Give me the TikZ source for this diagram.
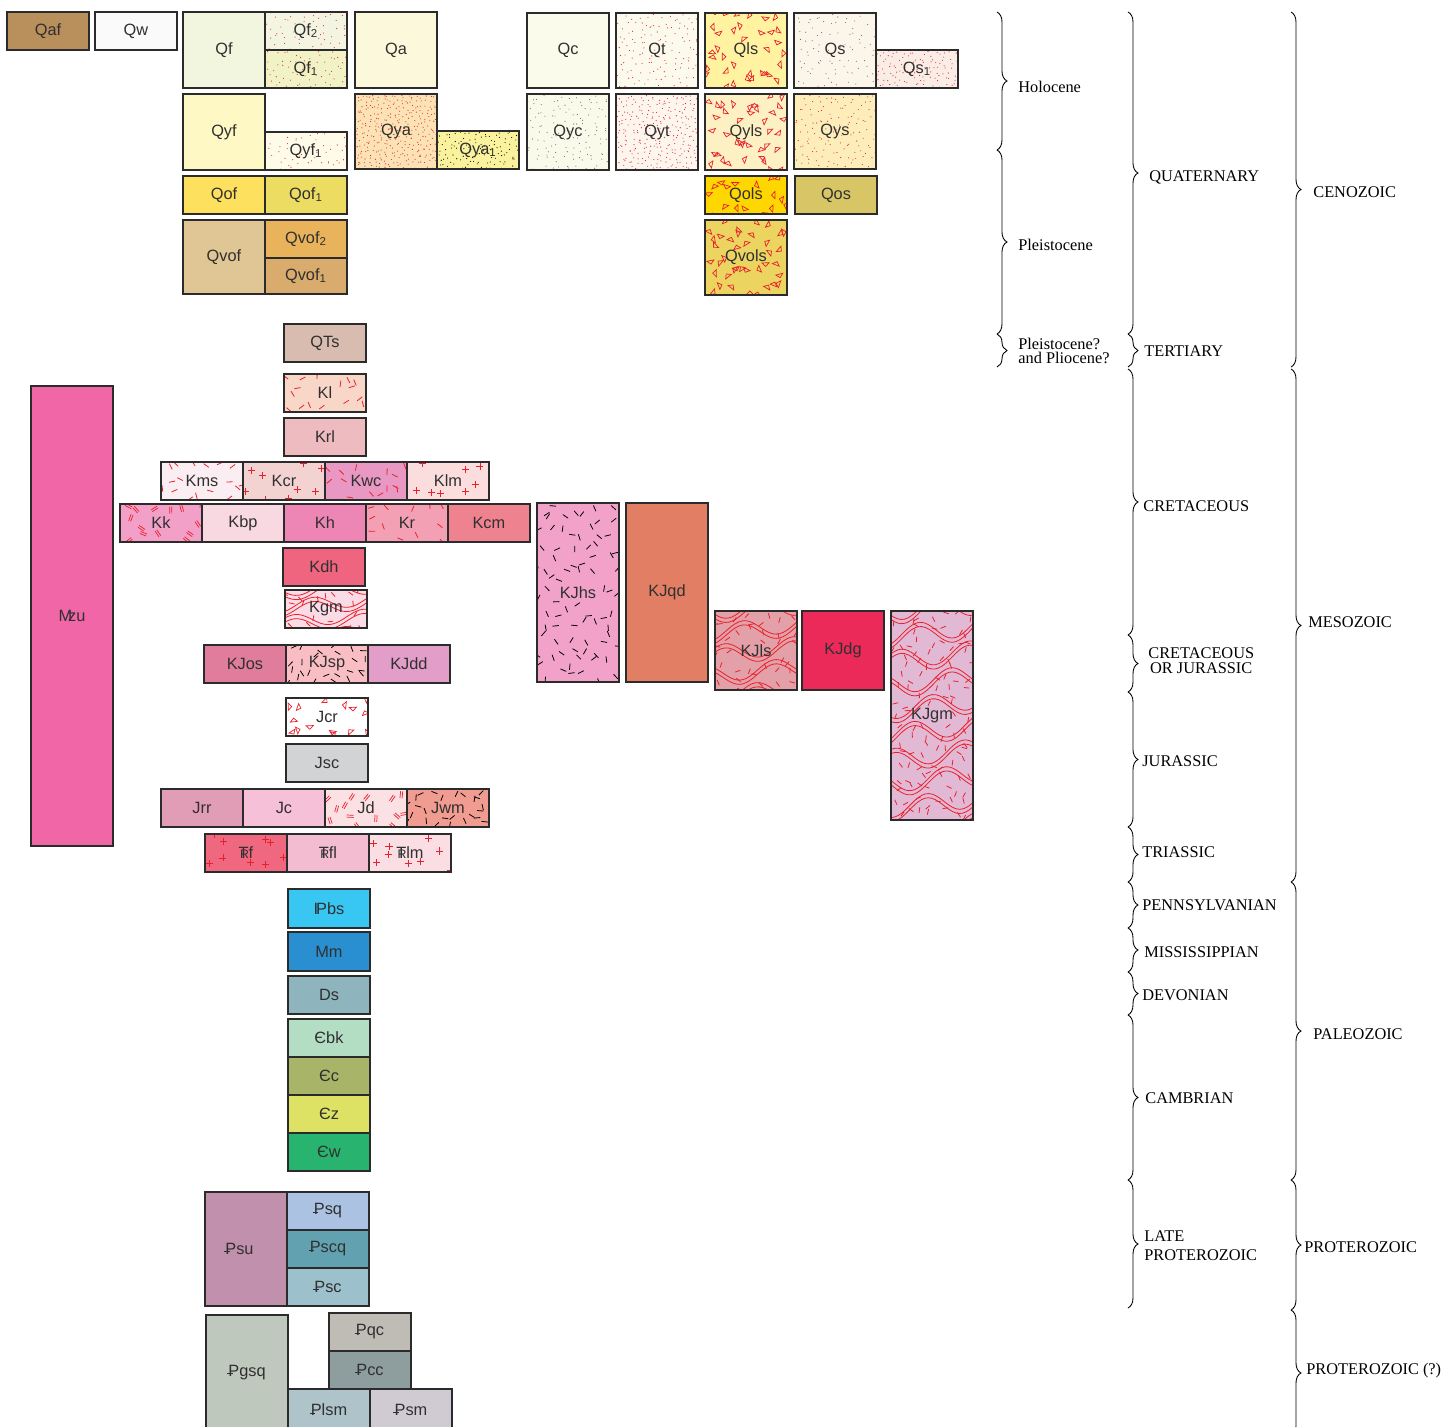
\documentclass[tikz,border=0pt]{standalone}
\usepackage{fontspec}
\setmainfont{Liberation Serif}
\newfontfamily\unitfont{Liberation Sans}
\usepackage{xcolor}
\usepackage{tikz}
\usetikzlibrary{positioning}
\usetikzlibrary{decorations.pathreplacing}

\definecolor{edge}{HTML}{2B2B2B}
\definecolor{ink}{HTML}{303030}
\definecolor{redmk}{HTML}{E8202A}
\definecolor{graymk}{HTML}{707070}
\definecolor{cQaf}{HTML}{B98F5C}
\definecolor{cQw}{HTML}{FAFAFA}
\definecolor{cQf}{HTML}{F3F6DF}
\definecolor{cQfb}{HTML}{F3F5E2}
\definecolor{cQfa}{HTML}{F1F2C5}
\definecolor{cQa}{HTML}{FCF8DB}
\definecolor{cQyf}{HTML}{FEF8C4}
\definecolor{cQyfa}{HTML}{FEFBE8}
\definecolor{cQya}{HTML}{FCE3B5}
\definecolor{cQyaa}{HTML}{FAF29C}
\definecolor{cQof}{HTML}{FDE05E}
\definecolor{cQofa}{HTML}{ECDC62}
\definecolor{cQvof}{HTML}{E0C595}
\definecolor{cQvofb}{HTML}{E8B35A}
\definecolor{cQvofa}{HTML}{D9AB6D}
\definecolor{cQc}{HTML}{FAFBEA}
\definecolor{cQt}{HTML}{FCFAED}
\definecolor{cQls}{HTML}{FFF3A2}
\definecolor{cQs}{HTML}{FCF5EA}
\definecolor{cQsa}{HTML}{FAEDE5}
\definecolor{cQyc}{HTML}{FAFAEA}
\definecolor{cQyt}{HTML}{FCF6EE}
\definecolor{cQyls}{HTML}{FDF0C2}
\definecolor{cQys}{HTML}{FDEDBB}
\definecolor{cQols}{HTML}{FFD700}
\definecolor{cQos}{HTML}{D8C666}
\definecolor{cQvols}{HTML}{EBD560}
\definecolor{cQTs}{HTML}{D9BCB0}
\definecolor{cMzu}{HTML}{F066A6}
\definecolor{cKl}{HTML}{F8D6C8}
\definecolor{cKrl}{HTML}{EEBCC0}
\definecolor{cKms}{HTML}{FAEEF2}
\definecolor{cKcr}{HTML}{F3D3D1}
\definecolor{cKwc}{HTML}{E898C2}
\definecolor{cKlm}{HTML}{FBDDDD}
\definecolor{cKk}{HTML}{F3A0C8}
\definecolor{cKbp}{HTML}{F8D9E2}
\definecolor{cKh}{HTML}{EE86B5}
\definecolor{cKr}{HTML}{F4A0B4}
\definecolor{cKcm}{HTML}{EF828F}
\definecolor{cKdh}{HTML}{EF647E}
\definecolor{cKgm}{HTML}{FBDCE6}
\definecolor{cKJhs}{HTML}{F2A1C9}
\definecolor{cKJqd}{HTML}{E27E63}
\definecolor{cKJls}{HTML}{E3A0A8}
\definecolor{cKJdg}{HTML}{EC2A5A}
\definecolor{cKJgm}{HTML}{E2B9D5}
\definecolor{cKJos}{HTML}{E07D9C}
\definecolor{cKJsp}{HTML}{F8BEC4}
\definecolor{cKJdd}{HTML}{E29DC8}
\definecolor{cJcr}{HTML}{FFFFFF}
\definecolor{cJsc}{HTML}{D2D3D5}
\definecolor{cJrr}{HTML}{E19DB5}
\definecolor{cJc}{HTML}{F5C0D8}
\definecolor{cJd}{HTML}{FBE0E4}
\definecolor{cJwm}{HTML}{F09C90}
\definecolor{cTrf}{HTML}{F06880}
\definecolor{cTrfl}{HTML}{F4BCD0}
\definecolor{cTrlm}{HTML}{FBDDE4}
\definecolor{cPbs}{HTML}{38C6F2}
\definecolor{cMm}{HTML}{2A8FD0}
\definecolor{cDs}{HTML}{8EB4BE}
\definecolor{cCbk}{HTML}{B4DEC4}
\definecolor{cCc}{HTML}{A8B468}
\definecolor{cCz}{HTML}{DEE264}
\definecolor{cCw}{HTML}{28B46E}
\definecolor{cPsu}{HTML}{C090AC}
\definecolor{cPsq}{HTML}{ACC2E2}
\definecolor{cPscq}{HTML}{62A2B0}
\definecolor{cPsc}{HTML}{9CC0CC}
\definecolor{cPgsq}{HTML}{BEC8BC}
\definecolor{cPqc}{HTML}{BEBCB4}
\definecolor{cPcc}{HTML}{8E9E9E}
\definecolor{cPlsm}{HTML}{AEC4CA}
\definecolor{cPsm}{HTML}{D0CAD2}

\newcommand{\lbl}{\fontsize{9.3}{10}\selectfont}
\newcommand{\trsym}{{\ooalign{T\cr\hidewidth\kern0.1em\fontsize{7}{7}\selectfont R\hidewidth\cr}}}
\newcommand{\psym}{{\ooalign{P\cr\kern-0.08em\rule[0.3ex]{0.34em}{0.08ex}\cr}}}
\newcommand{\pasym}{I\kern-0.12em P}
\newcommand{\mzsym}{M\kern-0.25em z}

% corner, size and centre of the box that is being patterned (pt)
\newcommand{\bxsize}{%
  \pgfpointanchor{path picture bounding box}{north west}\pgfgetlastxy{\nwx}{\nwy}%
  \pgfpointanchor{path picture bounding box}{south east}\pgfgetlastxy{\sex}{\sey}%
  \pgfmathsetmacro{\bw}{\sex-\nwx}\pgfmathsetmacro{\bh}{\sey-\nwy}%
  \pgfmathsetmacro{\nwx}{\nwx}\pgfmathsetmacro{\nwy}{\nwy}%
  \pgfmathsetmacro{\cxx}{\nwx+\bw/2}\pgfmathsetmacro{\cyy}{\nwy+\bh/2}}
% jittered marks: seed, spacing (pt), free half width round the label (pt), mark
\newcommand{\scatmarks}[4]{%
  \bxsize\pgfmathsetseed{#1}%
  \pgfmathtruncatemacro{\nx}{max(1,round(\bw/#2))}%
  \pgfmathtruncatemacro{\ny}{max(1,round(abs(\bh)/#2))}%
  \pgfmathsetmacro{\sx}{\bw/\nx}%
  \pgfmathsetmacro{\sy}{\bh/\ny}%
  \foreach \ii in {1,...,\nx}{\foreach \jj in {1,...,\ny}{%
    \pgfmathsetmacro{\px}{\nwx+(\ii-1+rnd)*\sx}%
    \pgfmathsetmacro{\py}{\nwy+(\jj-1+rnd)*\sy}%
    \pgfmathsetmacro{\ra}{rnd*180}%
    \pgfmathtruncatemacro{\keep}{or(abs(\px-\cxx)>#3,abs(\py-\cyy)>0.45*#3)}%
    \ifnum\keep=1 #4\fi}}}
% folded lines: band spacing (pt), phase
\newcommand{\folds}[2]{%
  \bxsize
  \pgfmathtruncatemacro{\nb}{abs(\bh)/#1+1}%
  \foreach \kk in {-1,...,\nb}{\foreach \dd in {0,2.4}{%
    \draw[redmk,line width=0.45pt] plot[smooth,domain=0:1,samples=25]
      ({(\nwx+\x*\bw)*1pt},{(\nwy-(\kk)*#1-\dd-0.4*#1*sin(\x*430+(\kk)*97+#2)+0.4*#1*\x)*1pt});}}}

\tikzset{%
  ubox/.style = {rectangle,draw=edge,line width=0.7pt,anchor=north west,
        minimum width=1.64cm,minimum height=0.76cm,inner sep=0pt,
        outer sep=0pt,text=ink,font=\unitfont\lbl},
  stip/.style n args = {3}{path picture={\scatmarks{#1}{#2}{0}{%
        \fill[#3] (\px pt,\py pt) circle (0.32pt);}}},
  trimk/.style 2 args = {path picture={\scatmarks{#1}{#2}{11}{%
        \draw[redmk,line width=0.4pt,line join=miter]
          (\px pt,\py pt) -- ++(2*\ra:2.9pt) -- ++(2*\ra+135:4.1pt) -- cycle;}}},
  fleck/.style n args = {3}{path picture={\scatmarks{#1}{#2}{11}{%
        \draw[#3,line width=0.45pt] (\px pt,\py pt) ++(\ra:1.8pt) -- ++(\ra+180:3.6pt);}}},
  crossmk/.style 2 args = {path picture={\scatmarks{#1}{#2}{10}{%
        \draw[redmk,line width=0.5pt] (\px pt,\py pt) ++(-2pt,0pt) -- ++(4pt,0pt)
          (\px pt,\py pt) ++(0pt,-2pt) -- ++(0pt,4pt);}}},
  pairmk/.style 2 args = {path picture={\scatmarks{#1}{#2}{9}{%
        \draw[redmk,line width=0.4pt]
          (\px pt,\py pt) ++(\ra+90:0.6pt) ++(\ra:2pt) -- ++(\ra+180:4pt)
          (\px pt,\py pt) ++(\ra-90:0.6pt) ++(\ra:2pt) -- ++(\ra+180:4pt);}}},
  foldmk/.style 2 args = {path picture={\folds{#1}{#2}\scatmarks{#2}{7}{11}{%
        \draw[redmk,line width=0.45pt] (\px pt,\py pt) ++(\ra:1.6pt) -- ++(\ra+180:3.2pt);}}},
  age/.style = {anchor=west,inner sep=0pt,align=left,font=\lbl},
  agebrace/.style = {decorate,decoration={brace,amplitude=0.2cm},line width=0.5pt}
}

\begin{document}
\begin{tikzpicture}[x=0.02cm,y=-0.02cm]
\useasboundingbox (0,0) rectangle (1445,1427);
% Quaternary units
\node[ubox,fill=cQaf] (Qaf) at (7,12) {Qaf};
\node[ubox,fill=cQw] (Qw) at (95,12) {Qw};
\node[ubox,fill=cQf,minimum height=1.52cm] (Qf) at (183,12) {Qf};
\node[ubox,fill=cQfb,stip={1}{4.5}{redmk}] (Qf2) [right=0pt of Qf.north east,anchor=north west] {Qf\textsubscript{2}};
\node[ubox,fill=cQfa,stip={2}{4}{redmk}] (Qf1) [below=0pt of Qf2] {Qf\textsubscript{1}};
\node[ubox,fill=cQa,minimum height=1.52cm] (Qa) at (355,12) {Qa};
\node[ubox,fill=cQyf,minimum height=1.52cm] (Qyf) at (183,94) {Qyf};
\node[ubox,fill=cQyfa,stip={3}{4.5}{redmk}] (Qyf1) [right=0pt of Qyf.south east,anchor=south west] {Qyf\textsubscript{1}};
\node[ubox,fill=cQya,minimum height=1.5cm,stip={4}{2.5}{redmk}] (Qya) at (355,94) {Qya};
\node[ubox,fill=cQyaa,stip={5}{3}{black}] (Qya1) [right=0pt of Qya.south east,anchor=south west] {Qya\textsubscript{1}};
\node[ubox,fill=cQof] (Qof) at (183,176) {Qof};
\node[ubox,fill=cQofa] (Qof1) [right=0pt of Qof] {Qof\textsubscript{1}};
\node[ubox,fill=cQvof,minimum height=1.48cm] (Qvof) at (183,220) {Qvof};
\node[ubox,fill=cQvofb] (Qvof2) [right=0pt of Qvof.north east,anchor=north west] {Qvof\textsubscript{2}};
\node[ubox,fill=cQvofa,minimum height=0.72cm] (Qvof1) [below=0pt of Qvof2] {Qvof\textsubscript{1}};
\node[ubox,fill=cQc,minimum height=1.5cm] (Qc) at (527,13) {Qc};
\node[ubox,fill=cQt,minimum height=1.5cm,stip={6}{4}{redmk}] (Qt) at (616,13) {Qt};
\node[ubox,fill=cQls,minimum height=1.5cm,trimk={7}{7}] (Qls) at (705,13) {Qls};
\node[ubox,fill=cQs,minimum height=1.5cm,stip={8}{4.5}{graymk}] (Qs) at (794,13) {Qs};
\node[ubox,fill=cQsa,stip={9}{3}{redmk}] (Qs1) [right=0pt of Qs.south east,anchor=south west] {Qs\textsubscript{1}};
\node[ubox,fill=cQyc,minimum height=1.52cm,stip={10}{4}{graymk}] (Qyc) at (527,94) {Qyc};
\node[ubox,fill=cQyt,minimum height=1.52cm,stip={11}{2.7}{redmk}] (Qyt) at (616,94) {Qyt};
\node[ubox,fill=cQyls,minimum height=1.52cm,trimk={12}{7}] (Qyls) at (705,94) {Qyls};
\node[ubox,fill=cQys,minimum height=1.5cm,stip={13}{4}{redmk}] (Qys) at (794,94) {Qys};
\node[ubox,fill=cQols,trimk={14}{7}] (Qols) at (705,176) {Qols};
\node[ubox,fill=cQos] (Qos) at (795,176) {Qos};
\node[ubox,fill=cQvols,minimum height=1.5cm,trimk={15}{7}] (Qvols) at (705,220) {Qvols};
% Tertiary
\node[ubox,fill=cQTs] (QTs) at (284,324) {QTs};
% Mesozoic units
\node[ubox,fill=cMzu,minimum height=9.2cm] (Mzu) at (31,386) {\mzsym u};
\node[ubox,fill=cKl,fleck={16}{7}{redmk}] (Kl) at (284,374) {Kl};
\node[ubox,fill=cKrl] (Krl) at (284,418) {Krl};
\node[ubox,fill=cKms,fleck={17}{7}{redmk}] (Kms) at (161,462) {Kms};
\node[ubox,fill=cKcr,crossmk={18}{9}] (Kcr) [right=0pt of Kms] {Kcr};
\node[ubox,fill=cKwc,fleck={19}{6.5}{redmk}] (Kwc) [right=0pt of Kcr] {Kwc};
\node[ubox,fill=cKlm,crossmk={20}{9}] (Klm) [right=0pt of Kwc] {Klm};
\node[ubox,fill=cKk,pairmk={21}{7.5}] (Kk) at (120,504) {Kk};
\node[ubox,fill=cKbp] (Kbp) [right=0pt of Kk] {Kbp};
\node[ubox,fill=cKh] (Kh) [right=0pt of Kbp] {Kh};
\node[ubox,fill=cKr,fleck={22}{8.5}{redmk}] (Kr) [right=0pt of Kh] {Kr};
\node[ubox,fill=cKcm] (Kcm) [right=0pt of Kr] {Kcm};
\node[ubox,fill=cKdh] (Kdh) at (283,548) {Kdh};
\node[ubox,fill=cKgm,foldmk={9}{23}] (Kgm) at (285,590) {Kgm};
\node[ubox,fill=cKJhs,minimum height=3.58cm,fleck={24}{7.5}{black}] (KJhs) at (537,503) {KJhs};
\node[ubox,fill=cKJqd,minimum height=3.58cm] (KJqd) at (626,503) {KJqd};
\node[ubox,fill=cKJls,minimum height=1.58cm,foldmk={12}{25}] (KJls) at (715,611) {KJls};
\node[ubox,fill=cKJdg,minimum height=1.58cm] (KJdg) at (802,611) {KJdg};
\node[ubox,fill=cKJgm,minimum height=4.18cm,foldmk={14}{26}] (KJgm) at (891,611) {KJgm};
\node[ubox,fill=cKJos] (KJos) at (204,645) {KJos};
\node[ubox,fill=cKJsp,fleck={27}{6}{black}] (KJsp) [right=0pt of KJos] {KJsp};
\node[ubox,fill=cKJdd] (KJdd) [right=0pt of KJsp] {KJdd};
\node[ubox,fill=cJcr,trimk={28}{6.5}] (Jcr) at (286,698) {Jcr};
\node[ubox,fill=cJsc] (Jsc) at (286,744) {Jsc};
\node[ubox,fill=cJrr] (Jrr) at (161,789) {Jrr};
\node[ubox,fill=cJc] (Jc) [right=0pt of Jrr] {Jc};
\node[ubox,fill=cJd,pairmk={29}{7.5}] (Jd) [right=0pt of Jc] {Jd};
\node[ubox,fill=cJwm,fleck={30}{6}{black}] (Jwm) [right=0pt of Jd] {Jwm};
\node[ubox,fill=cTrf,crossmk={31}{9.5}] (Trf) at (205,834) {\trsym f};
\node[ubox,fill=cTrfl] (Trfl) [right=0pt of Trf] {\trsym fl};
\node[ubox,fill=cTrlm,crossmk={32}{9}] (Trlm) [right=0pt of Trfl] {\trsym lm};
% Paleozoic units
\node[ubox,fill=cPbs,minimum height=0.78cm] (Pbs) at (288,889) {\pasym bs};
\node[ubox,fill=cMm,minimum height=0.78cm] (Mm) at (288,932) {Mm};
\node[ubox,fill=cDs] (Ds) at (288,976) {Ds};
\node[ubox,fill=cCbk] (Cbk) at (288,1019) {Єbk};
\node[ubox,fill=cCc] (Cc) [below=0pt of Cbk] {Єc};
\node[ubox,fill=cCz] (Cz) [below=0pt of Cc] {Єz};
\node[ubox,fill=cCw] (Cw) [below=0pt of Cz] {Єw};
% Proterozoic units
\node[ubox,fill=cPsu,minimum height=2.28cm] (Psu) at (205,1192) {\psym su\kern0.8em};
\node[ubox,fill=cPsq] (Psq) [right=0pt of Psu.north east,anchor=north west] {\psym sq};
\node[ubox,fill=cPscq] (Pscq) [below=0pt of Psq] {\psym scq};
\node[ubox,fill=cPsc] (Psc) [below=0pt of Pscq] {\psym sc};
\node[ubox,fill=cPgsq,minimum height=2.36cm] (Pgsq) at (206,1315) {\raisebox{0.12cm}{\psym gsq}};
\node[ubox,fill=cPqc] (Pqc) at (329,1313) {\psym qc};
\node[ubox,fill=cPcc] (Pcc) [below=0pt of Pqc] {\psym cc};
\node[ubox,fill=cPlsm,minimum height=0.84cm] (Plsm) at (288,1389) {\psym lsm};
\node[ubox,fill=cPsm,minimum height=0.84cm] (Psm) [right=0pt of Plsm] {\psym sm};

% epochs
\draw[agebrace] (997,12) -- (997,150);
\draw[agebrace] (997,150) -- (997,334);
\draw[agebrace] (997,334) -- (997,367);
\node[age] (holocene) at (1018,87) {Holocene};
\node[age] (pleisto) at (1018,245) {Pleistocene};
\node[age,font=\fontsize{9.3}{8}\selectfont] (plio) at (1018,351) {Pleistocene?\\and Pliocene?};
% periods
\draw[agebrace] (1128,12) -- (1128,334);
\draw[agebrace] (1128,334) -- (1128,367);
\draw[agebrace] (1128,369) -- (1128,635);
\draw[agebrace] (1128,635) -- (1128,692);
\draw[agebrace] (1128,692) -- (1128,827);
\draw[agebrace] (1128,827) -- (1128,882);
\draw[agebrace] (1128,882) -- (1128,928);
\draw[agebrace] (1128,928) -- (1128,972);
\draw[agebrace] (1128,972) -- (1128,1015);
\draw[agebrace] (1128,1015) -- (1128,1180);
\draw[agebrace] (1128,1180) -- (1128,1308);
\node[age] (quat) at (1149,177) {QUATERNARY};
\node[age] (tert) at (1144,351) {TERTIARY};
\node[age] (cret) at (1143,506) {CRETACEOUS};
\node[age,align=center,font=\fontsize{9.3}{8.5}\selectfont] (cretjur) at (1148,661) {CRETACEOUS\\OR JURASSIC};
\node[age] (jur) at (1142,761) {JURASSIC};
\node[age] (tri) at (1142,852) {TRIASSIC};
\node[age] (penn) at (1142,905) {PENNSYLVANIAN};
\node[age] (miss) at (1144,952) {MISSISSIPPIAN};
\node[age] (dev) at (1142,995) {DEVONIAN};
\node[age] (camb) at (1145,1098) {CAMBRIAN};
\node[age,font=\fontsize{9.3}{10.8}\selectfont] (lateprot) at (1144,1246) {LATE\\PROTEROZOIC};
% eras
\draw[agebrace] (1291,12) -- (1291,367);
\draw[agebrace] (1291,369) -- (1291,882);
\draw[agebrace] (1291,882) -- (1291,1180);
\draw[agebrace] (1291,1180) -- (1291,1310);
\draw[agebrace] (1291,1310) -- (1291,1436);
\node[age] (ceno) at (1313,192) {CENOZOIC};
\node[age] (meso) at (1308,622) {MESOZOIC};
\node[age] (paleo) at (1313,1034) {PALEOZOIC};
\node[age] (prot) at (1304,1247) {PROTEROZOIC};
\node[age] (protq) at (1306,1371) {PROTEROZOIC (?)};
\end{tikzpicture}
\end{document}
